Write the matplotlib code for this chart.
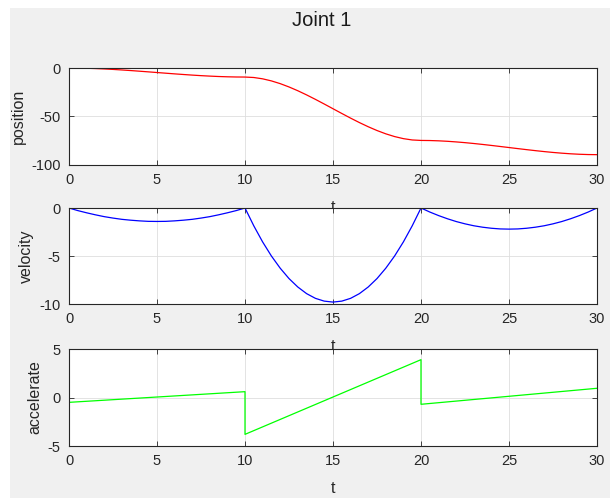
import matplotlib
matplotlib.use("Agg")
import matplotlib.pyplot as plt
from matplotlib.patches import Rectangle

# Joint 1 trajectory, sampled every 0.5 s from 0 to 30 s
t = [i * 0.5 for i in range(61)]

position = [0.0, -0.07, -0.26, -0.57, -0.97, -1.46, -2.02, -2.63, -3.29, -3.97, -4.67,
            -5.36, -6.05, -6.70, -7.32, -7.88, -8.36, -8.77, -9.07, -9.27, -9.33,
            -9.80, -11.16, -13.30, -16.12, -19.54, -23.44, -27.74, -32.33, -37.11, -42.0,
            -46.88, -51.67, -56.26, -60.55, -64.46, -67.87, -70.69, -72.83, -74.19, -74.67,
            -74.78, -75.08, -75.56, -76.20, -76.96, -77.84, -78.80, -79.83, -80.91, -82.0,
            -83.10, -84.17, -85.20, -86.17, -87.05, -87.81, -88.45, -88.93, -89.23, -89.34]

velocity = [0.0, -0.27, -0.50, -0.71, -0.90, -1.05, -1.18, -1.27, -1.34, -1.39, -1.40,
            -1.39, -1.34, -1.27, -1.18, -1.05, -0.90, -0.71, -0.50, -0.27, 0.0,
            -1.86, -3.53, -5.00, -6.27, -7.35, -8.23, -8.92, -9.41, -9.70, -9.80,
            -9.70, -9.41, -8.92, -8.23, -7.35, -6.27, -5.00, -3.53, -1.86, 0.0,
            -0.42, -0.79, -1.12, -1.41, -1.65, -1.85, -2.00, -2.11, -2.18, -2.20,
            -2.18, -2.11, -2.00, -1.85, -1.65, -1.41, -1.12, -0.79, -0.42, 0.0]

# acceleration is piecewise linear with jumps at the segment boundaries
t_acc = [0, 0, 10, 10, 20, 20, 30]
acceleration = [0.0, -0.5, 0.6, -3.8, 3.9, -0.7, 0.95]

xticks = [0, 5, 10, 15, 20, 25, 30]
panels = [
    ("position", t, position, "#ff0000", (-100, 0), [-100, -50, 0]),
    ("velocity", t, velocity, "#0000ff", (-10, 0), [-10, -5, 0]),
    ("accelerate", t_acc, acceleration, "#00ff00", (-5, 5), [-5, 0, 5]),
]

plt.rcParams["font.family"] = ["Liberation Sans", "DejaVu Sans"]
plt.rcParams["axes.unicode_minus"] = False

W, H = 610, 498
fig = plt.figure(figsize=(W / 100, H / 100), dpi=100, facecolor="white")
fig.patches.append(Rectangle((10 / W, 0), 1 - 10 / W, 1 - 8 / H,
                             transform=fig.transFigure, facecolor="#f0f0f0",
                             edgecolor="none", zorder=-10))

left, right = 69 / W, 597 / W
rows = [(68, 165), (208, 304), (349, 446)]
text_col = "#262626"

for (label, x, y, col, ylim, yt), (top, bot) in zip(panels, rows):
    ax = fig.add_axes([left, 1 - bot / H, right - left, (bot - top) / H])
    ax.set_facecolor("white")
    ax.plot(x, y, color=col, lw=0.9)
    ax.set_xlim(0, 30)
    ax.set_ylim(*ylim)
    ax.set_xticks(xticks)
    ax.set_yticks(yt)
    ax.grid(True, color="#dedede", lw=0.6)
    ax.set_axisbelow(True)
    for s in ax.spines.values():
        s.set_color(text_col)
        s.set_linewidth(0.8)
    ax.tick_params(direction="in", length=3.5, width=0.6, colors=text_col,
                   labelsize=10.5, top=True, right=True, pad=6)
    ax.set_ylabel(label, fontsize=11.5, color=text_col, labelpad=4)
    ax.set_xlabel("t", fontsize=11.5, color=text_col, labelpad=9)

fig.text(322 / W, 1 - 21 / H, "Joint 1", ha="center", va="center",
         fontsize=14.5, color="#1a1a1a")

fig.savefig("out.png", dpi=100, facecolor=fig.get_facecolor())
